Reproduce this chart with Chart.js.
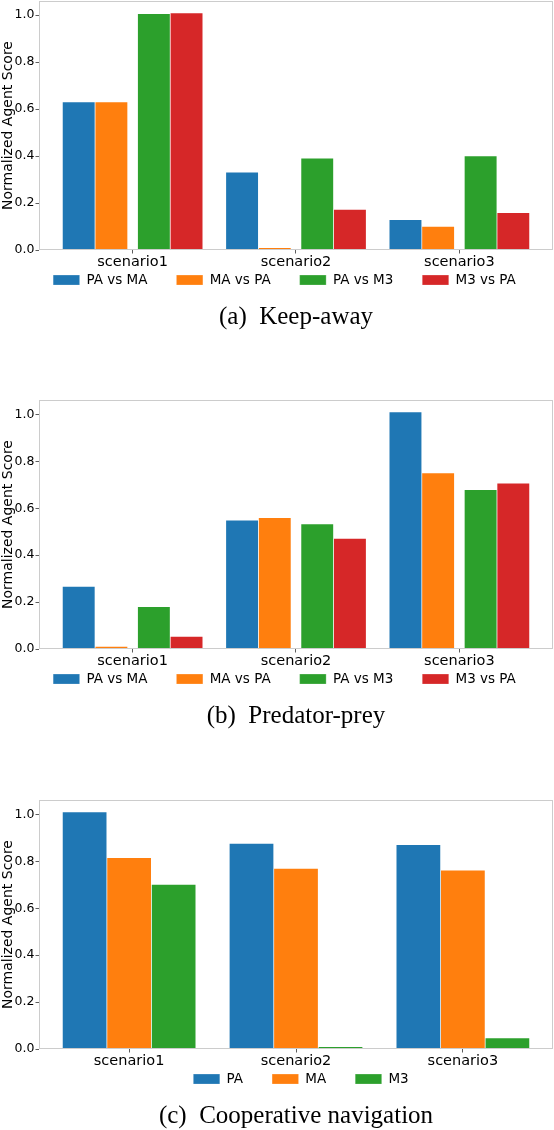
<!DOCTYPE html>
<html>
<head>
<meta charset="utf-8">
<script src="https://cdn.jsdelivr.net/npm/chart.js@4.4.1/dist/chart.umd.min.js"></script>
<style>
  html, body { margin: 0; padding: 0; background: #fff; overflow: hidden; }
  .panel { position: absolute; left: 0; width: 554px; height: 340px; }
</style>
</head>
<body>
<div class="panel" style="top:0px"><canvas id="keepAway"></canvas></div>
<div class="panel" style="top:399px"><canvas id="predatorPrey"></canvas></div>
<div class="panel" style="top:799px"><canvas id="coopNav"></canvas></div>
<script>
const scenarios = ['scenario1', 'scenario2', 'scenario3'];
const versusLabels = ['PA vs MA', 'MA vs PA', 'PA vs M3', 'M3 vs PA'];
const agentLabels = ['PA', 'MA', 'M3'];
const colors = ['#1f77b4', '#ff7f0e', '#2ca02c', '#d62728'];

// (a) Keep-away
const keepPaVsMa = [0.631, 0.332, 0.129];
const keepMaVsPa = [0.631, 0.010, 0.101];
const keepPaVsM3 = [1.007, 0.391, 0.401];
const keepM3VsPa = [1.010, 0.173, 0.159];

// (b) Predator-prey
const predPaVsMa = [0.267, 0.549, 1.011];
const predMaVsPa = [0.011, 0.560, 0.751];
const predPaVsM3 = [0.181, 0.533, 0.679];
const predM3VsPa = [0.054, 0.472, 0.707];

// (c) Cooperative navigation
const navPa = [1.011, 0.877, 0.871];
const navMa = [0.816, 0.770, 0.763];
const navM3 = [0.702, 0.010, 0.047];

const SANS = 'DejaVu Sans';

// light grey box round the plot area, like the matplotlib spines
const frame = {
    id: 'frame',
    afterDatasetsDraw(chart) {
        const {ctx, chartArea: a} = chart;
        ctx.save();
        ctx.strokeStyle = '#cccccc';
        ctx.lineWidth = 1;
        ctx.strokeRect(a.left + 0.5, a.top + 0.5, a.right - a.left - 1, a.bottom - a.top - 1);
        ctx.restore();
    }
};

// pull the legend row up and sideways; its padding is also the gap between items
// (only the top moves, the legend clips to its own box)
const legendShift = {
    id: 'legendShift',
    afterLayout(chart, args, opts) {
        const lg = chart.legend;
        if (!lg) return;
        lg.left += opts.dx || 0;
        lg.right += opts.dx || 0;
        lg.top += opts.dy || 0;
    }
};

function makeChart(id, caption, labels, series, offsets, barWidth, legendDx) {
    const lo = offsets[0] - barWidth / 2;
    const hi = scenarios.length - 1 + offsets[offsets.length - 1] + barWidth / 2;
    const margin = (hi - lo) * 0.05;
    const allValues = series.flat();

    const datasets = series.map((values, k) => ({
        label: labels[k],
        data: values.map((v, i) => ({x: i + offsets[k], y: v})),
        backgroundColor: colors[k],
        borderColor: 'rgba(255, 255, 255, 0.35)',
        borderWidth: 0.7,
        grouped: false,
        categoryPercentage: 1,
        barPercentage: 1,
    }));

    return new Chart(document.getElementById(id), {
        type: 'bar',
        data: {datasets},
        plugins: [frame, legendShift],
        options: {
            responsive: true,
            maintainAspectRatio: false,
            animation: false,
            events: [],
            layout: {padding: {top: 1, right: 1, left: 0, bottom: 0}},
            scales: {
                x: {
                    type: 'linear',
                    offset: false,
                    min: lo - margin,
                    max: hi + margin,
                    border: {display: false},
                    grid: {display: true, drawOnChartArea: false, drawTicks: true, tickLength: 3.5,
                           color: '#333', lineWidth: 0.8, offset: false},
                    ticks: {
                        stepSize: 1,
                        includeBounds: false,
                        padding: 0,
                        color: '#000',
                        font: {family: SANS, size: 14.5},
                        maxRotation: 0,
                        autoSkip: false,
                        callback: (v) => Number.isInteger(v) ? scenarios[v] : '',
                    },
                    afterFit(s) { s.paddingLeft = 0; s.paddingRight = 0; s.height = 20.3; },
                },
                y: {
                    min: 0,
                    max: Math.max(...allValues) * 1.05,
                    border: {display: false},
                    grid: {display: true, drawOnChartArea: false, drawTicks: true, tickLength: 3.5,
                           color: '#333', lineWidth: 0.8},
                    ticks: {
                        stepSize: 0.2,
                        includeBounds: false,
                        padding: 1,
                        color: '#000',
                        font: {family: SANS, size: 12.5},
                        callback: (v) => v.toFixed(1),
                    },
                    title: {
                        display: true,
                        text: 'Normalized Agent Score',
                        color: '#000',
                        font: {family: SANS, size: 14},
                        padding: {top: 0, bottom: 0},
                    },
                    afterFit(s) { s.width = 39; s.paddingTop = 0; s.paddingBottom = 0; },
                },
            },
            plugins: {
                tooltip: {enabled: false},
                legend: {
                    position: 'bottom',
                    fullSize: true,
                    maxHeight: 25,
                    labels: {
                        boxWidth: 26.5,
                        boxHeight: 10,
                        padding: 29,
                        color: '#000',
                        font: {family: SANS, size: 13.5},
                    },
                },
                legendShift: {dx: legendDx, dy: -26},
                title: {
                    display: true,
                    position: 'bottom',
                    fullSize: false,
                    text: caption,
                    color: '#000',
                    font: {family: 'Liberation Serif', size: 25, weight: 'normal'},
                    padding: {top: 7, bottom: 7.7},
                },
            },
        },
    });
}

const fourOffsets = [-0.33, -0.13, 0.13, 0.33];
const threeOffsets = [-0.8 / 3, 0, 0.8 / 3];

makeChart('keepAway', '(a)  Keep-away', versusLabels,
    [keepPaVsMa, keepMaVsPa, keepPaVsM3, keepM3VsPa], fourOffsets, 0.2, 8);
makeChart('predatorPrey', '(b)  Predator-prey', versusLabels,
    [predPaVsMa, predMaVsPa, predPaVsM3, predM3VsPa], fourOffsets, 0.2, 8);
makeChart('coopNav', '(c)  Cooperative navigation', agentLabels,
    [navPa, navMa, navM3], threeOffsets, 0.8 / 3, 24.5);
</script>
</body>
</html>
